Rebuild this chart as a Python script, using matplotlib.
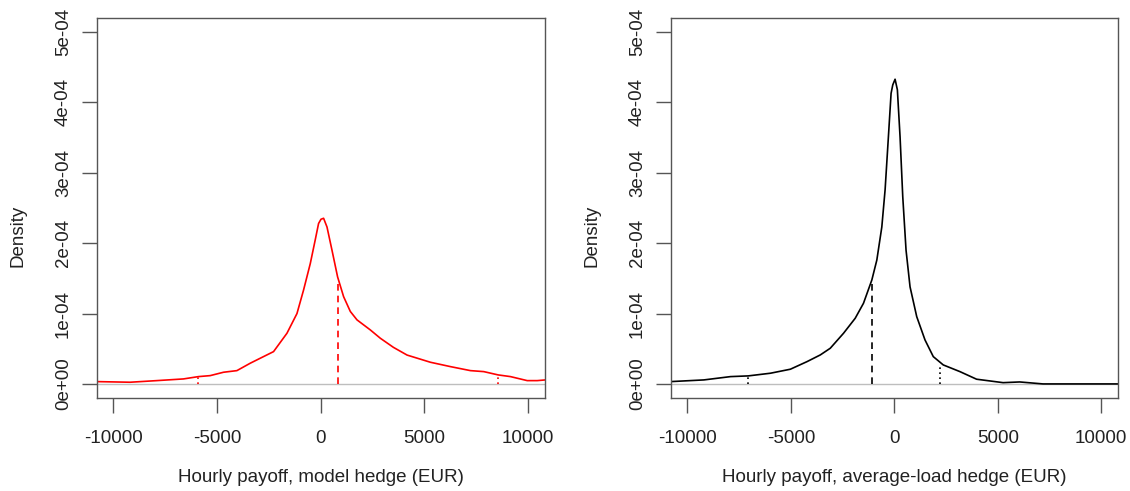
import matplotlib
matplotlib.use("Agg")
import matplotlib.pyplot as plt

plt.rcParams['font.family'] = ['Liberation Sans', 'DejaVu Sans']

# density of hourly payoff, model hedge (y in 1e-4)
model_x = [-10800, -9194, -7906, -6622, -5898, -5333, -4690, -4045, -3403, -2920,
           -2278, -1632, -1149, -830, -507, -266, -107, 9, 135, 299, 540, 811,
           1100, 1423, 1746, 2389, 2871, 3500, 4160, 5285, 6250, 7215, 7857, 8552,
           9146, 9952, 10435, 10835]
model_y = [0.033, 0.024, 0.047, 0.071, 0.104, 0.118, 0.166, 0.189, 0.294, 0.365,
           0.459, 0.72, 1.0, 1.335, 1.71, 2.05, 2.28, 2.34, 2.354, 2.23, 1.90, 1.52,
           1.24, 1.03, 0.91, 0.767, 0.649, 0.52, 0.41, 0.308, 0.246, 0.189, 0.175, 0.128,
           0.104, 0.047, 0.047, 0.057]

# density of hourly payoff, average-load hedge
avg_x = [-10800, -9200, -7913, -7060, -5986, -5022, -4217, -3576, -3094, -2453,
         -1889, -1489, -1085, -844, -603, -444, -285, -155, -73, 38, 149, 279,
         409, 568, 761, 1084, 1484, 1884, 2366, 3171, 3976, 5258, 6063, 7186, 10800]
avg_y = [0.033, 0.057, 0.104, 0.114, 0.152, 0.209, 0.317, 0.412, 0.507, 0.72,
         0.933, 1.146, 1.477, 1.76, 2.23, 2.76, 3.51, 4.13, 4.25, 4.33, 4.18, 3.51,
         2.66, 1.90, 1.38, 0.956, 0.625, 0.388, 0.27, 0.175, 0.067, 0.018, 0.028, 0.0, 0.0]

# marker lines: mean (dashed) and quantiles (dotted), with heights
model_mean = (850, 1.43)
model_q = [(-5898, 0.104), (8552, 0.128)]
avg_mean = (-1085, 1.43)
avg_q = [(-7060, 0.114), (2207, 0.25)]

yticks = [0, 1, 2, 3, 4, 5]
ytick_labels = ["0e+00", "1e-04", "2e-04", "3e-04", "4e-04", "5e-04"]
xticks = [-10000, -5000, 0, 5000, 10000]

panels = [
    (model_x, model_y, model_mean, model_q, "red", "Hourly payoff, model hedge (EUR)"),
    (avg_x, avg_y, avg_mean, avg_q, "black", "Hourly payoff, average-load hedge (EUR)"),
]

fig = plt.figure(figsize=(11.3, 4.91), dpi=100)
axes_pos = [[97 / 1130, 93 / 491, 448 / 1130, 380 / 491],
            [671 / 1130, 93 / 491, 447 / 1130, 380 / 491]]
frame = "#555555"
txt = "#222222"

for pos, (xs, ys, mean, qs, col, xlab) in zip(axes_pos, panels):
    ax = fig.add_axes(pos)
    scale = 1e-4
    ax.axhline(0, color="#bebebe", lw=1.0)
    ax.plot(xs, [v * scale for v in ys], color=col, lw=1.2)
    ax.vlines(mean[0], 0, mean[1] * scale, colors=col, linestyles=(0, (4, 3)), lw=1.2)
    for qx, qh in qs:
        ax.vlines(qx, 0, qh * scale, colors=col, linestyles=(0, (1, 2)), lw=1.2)
    ax.set_xlim(-10790, 10810)
    ax.set_ylim(-0.2e-4, 5.2e-4)
    ax.set_xticks(xticks)
    ax.set_xticklabels([str(t) for t in xticks])
    ax.set_yticks([t * scale for t in yticks])
    ax.set_yticklabels(ytick_labels, rotation=90, va="center")
    ax.tick_params(axis="both", length=11, width=1, color=frame, labelsize=13.5,
                   labelcolor=txt)
    ax.tick_params(axis="x", pad=12)
    ax.tick_params(axis="y", pad=7)
    for sp in ax.spines.values():
        sp.set_color(frame)
        sp.set_linewidth(1.0)
    cx = pos[0] + pos[2] / 2
    fig.text(cx, 13 / 491, xlab, ha="center", va="center", fontsize=13.5, color=txt)
    fig.text(pos[0] - 79 / 1130, (491 - 236) / 491, "Density", rotation=90,
             ha="center", va="center", fontsize=13.5, color=txt)

fig.savefig("out.png", dpi=100)
